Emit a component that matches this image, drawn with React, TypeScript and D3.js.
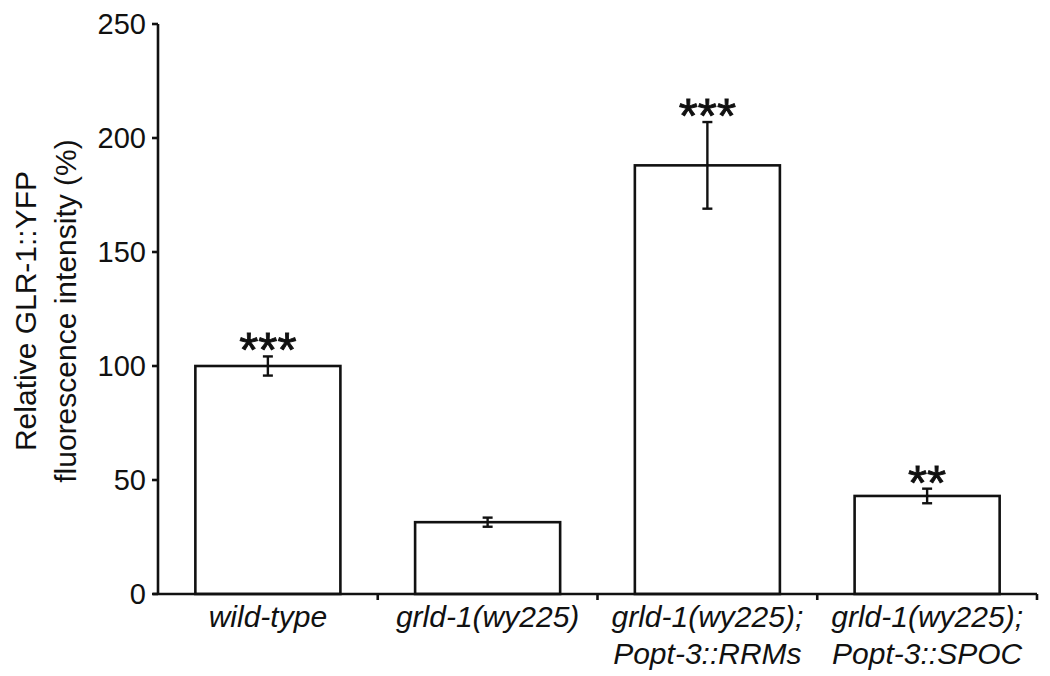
import React from "react";
import * as d3 from "d3";

const categories = ["wild-type", "grld-1(wy225)", "grld-1(wy225);|Popt-3::RRMs", "grld-1(wy225);|Popt-3::SPOC"];
const values = [100, 31.5, 188, 43];
const errors = [4.2, 2, 19, 3.2];
const significance = ["***", "", "***", "**"];
const yTicks = [0, 50, 100, 150, 200, 250];
const yLabelLines = ["Relative GLR-1::YFP", "fluorescence intensity (%)"];

const W = 1050;
const H = 676;
const left = 158;
const right = 1037;
const top = 24;
const bottom = 594;
const FONT = "'Liberation Sans', Arial, Helvetica, sans-serif";

export default function App() {
  const x = d3.scaleBand<string>().domain(categories).range([left, right]).paddingInner(0.34).paddingOuter(0.17);
  const y = d3.scaleLinear().domain([0, 250]).range([bottom, top]);
  const step = x.step();
  const bw = x.bandwidth();
  const sw = 2.6;

  return (
    <svg width={W} height={H} viewBox={`0 0 ${W} ${H}`} style={{ position: "absolute", left: 0, top: 0, background: "#fff" }}>
      <rect x={0} y={0} width={W} height={H} fill="#fff" />
      {/* bars */}
      {categories.map((c, i) => (
        <rect key={"b" + i} x={x(c)!} y={y(values[i])} width={bw} height={y(0) - y(values[i])} fill="#fff" stroke="#111" strokeWidth={sw} />
      ))}
      {/* error bars */}
      {categories.map((c, i) => {
        const cx = x(c)! + bw / 2;
        const y1 = y(values[i] + errors[i]);
        const y2 = y(values[i] - errors[i]);
        return (
          <g key={"e" + i} stroke="#111" strokeWidth={2.4}>
            <line x1={cx} x2={cx} y1={y1} y2={y2} />
            <line x1={cx - 5} x2={cx + 5} y1={y1} y2={y1} />
            <line x1={cx - 5} x2={cx + 5} y1={y2} y2={y2} />
          </g>
        );
      })}
      {/* significance */}
      {categories.map((c, i) =>
        significance[i] ? (
          <text key={"s" + i} x={x(c)! + bw / 2} y={y(values[i] + errors[i]) + 10} textAnchor="middle" fontFamily={FONT} fontSize={49} fill="#111" stroke="#111" strokeWidth={0.9}>
            {significance[i]}
          </text>
        ) : null
      )}
      {/* axes */}
      <line x1={left} x2={left} y1={top} y2={bottom} stroke="#111" strokeWidth={sw} />
      <line x1={left - 5} x2={right} y1={bottom} y2={bottom} stroke="#111" strokeWidth={sw} />
      {yTicks.map((t) => (
        <g key={"t" + t}>
          <line x1={left - 6} x2={left} y1={y(t)} y2={y(t)} stroke="#111" strokeWidth={sw} />
          <text x={left - 12} y={y(t)} dy="0.36em" textAnchor="end" fontFamily={FONT} fontSize={29} fill="#111">
            {t}
          </text>
        </g>
      ))}
      {categories.map((c, i) => (
        <line key={"sep" + i} x1={left + step * (i + 1)} x2={left + step * (i + 1)} y1={bottom} y2={bottom + 6} stroke="#111" strokeWidth={sw} />
      ))}
      {/* category labels */}
      {categories.map((c, i) => {
        const lines = c.split("|");
        const cx = x(c)! + bw / 2;
        return (
          <text key={"c" + i} textAnchor="middle" fontFamily={FONT} fontStyle="italic" fontSize={30} fill="#111">
            {lines.map((l, j) => (
              <tspan key={j} x={cx} y={627 + j * 37}>
                {l}
              </tspan>
            ))}
          </text>
        );
      })}
      {/* y label */}
      {yLabelLines.map((l, j) => (
        <text key={"yl" + j} transform={`translate(${36 + j * 40},${311}) rotate(-90)`} textAnchor="middle" fontFamily={FONT} fontSize={30} fill="#111">
          {l}
        </text>
      ))}
    </svg>
  );
}
